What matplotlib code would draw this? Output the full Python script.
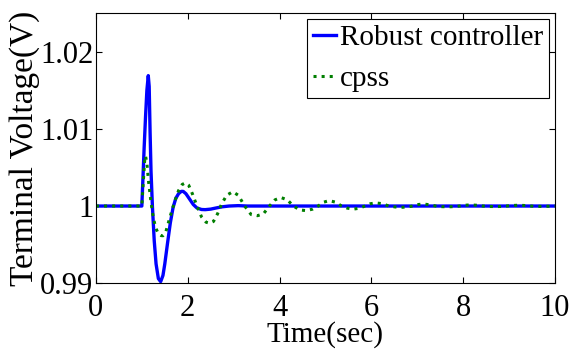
import matplotlib
matplotlib.use('Agg')
from matplotlib import pyplot as plt

# Robust controller response (time, voltage)
t_robust = [0.0, 1.0, 1.02, 1.05, 1.08, 1.11, 1.14, 1.16, 1.18, 1.2, 1.23,
            1.27, 1.31, 1.36, 1.41, 1.46, 1.5, 1.56, 1.62, 1.68, 1.74, 1.8,
            1.86, 1.9, 1.96, 2.04, 2.12, 2.2, 2.3, 2.38, 2.5, 2.62, 2.75,
            2.9, 3.1, 3.3, 10.0]
v_robust = [1.0, 1.0, 1.003, 1.0075, 1.0115, 1.015, 1.0169, 1.0155, 1.0095,
            1.0045, 1.0, 0.9955, 0.9925, 0.9906, 0.9902, 0.991, 0.9925,
            0.9952, 0.9978, 0.9998, 1.001, 1.0016, 1.0019, 1.0019, 1.0016,
            1.0009, 1.0002, 0.99975, 0.99955, 0.99953, 0.9996, 0.99975,
            0.9999, 1.0, 1.00005, 1.0, 1.0]

# cpss response
t_cpss = [0.0, 1.0, 1.03, 1.06, 1.08, 1.11, 1.15, 1.2, 1.25, 1.3, 1.36, 1.42,
          1.46, 1.52, 1.6, 1.7, 1.8, 1.88, 1.95, 2.02, 2.1, 2.2, 2.3, 2.4,
          2.48, 2.56, 2.65, 2.74, 2.85, 2.98, 3.1, 3.24, 3.38, 3.52, 3.65,
          3.78, 3.9, 4.03, 4.17, 4.3, 4.44, 4.58, 4.72, 4.84, 4.96, 5.08,
          5.22, 5.35, 5.48, 5.61, 5.74, 5.86, 5.98, 6.1, 6.24, 6.38, 6.52,
          6.65, 6.78, 6.9, 7.0, 7.12, 7.25, 7.4, 7.53, 7.66, 7.79, 7.92,
          8.04, 8.16, 8.29, 8.42, 8.56, 8.69, 8.82, 8.95, 9.07, 9.2, 9.33,
          9.46, 9.58, 9.72, 9.85, 10.0]
v_cpss = [1.0, 1.0, 1.003, 1.0058, 1.0065, 1.0055, 1.003, 1.0005, 0.9985,
          0.9972, 0.9964, 0.99617, 0.99615, 0.9966, 0.9983, 1.0003, 1.002,
          1.0028, 1.003, 1.0027, 1.0016, 1.0, 0.9986, 0.9979, 0.99777,
          0.998, 0.999, 1.0003, 1.0014, 1.00185, 1.0014, 1.0, 0.9989,
          0.99875, 0.999, 1.0, 1.0008, 1.0011, 1.0008, 1.0, 0.9995, 0.9994,
          0.9996, 1.0, 1.0005, 1.0007, 1.0005, 1.0, 0.99972, 0.9996,
          0.99972, 1.0, 1.0003, 1.0004, 1.0003, 1.0, 0.99988, 0.99983,
          0.99988, 1.0, 1.00018, 1.00026, 1.00018, 1.0, 0.99992, 0.9999,
          0.99992, 1.0, 1.0001, 1.00015, 1.0001, 1.0, 0.99994, 0.99993,
          0.99994, 1.0, 1.00007, 1.0001, 1.00007, 1.0, 0.99996, 0.99995,
          0.99997, 1.0]

xticks = [0, 2, 4, 6, 8, 10]
yticks = [0.99, 1.0, 1.01, 1.02]
ytick_labels = ['0.99', '1', '1.01', '1.02']

plt.rcParams['font.family'] = ['Liberation Serif', 'DejaVu Serif']

fig = plt.figure(figsize=(5.71, 3.54), dpi=100)
ax = fig.add_axes([0.168, 0.2, 0.804, 0.763])

ax.plot(t_robust, v_robust, color='#0000ff', lw=2.4, label='Robust controller')
ax.plot(t_cpss, v_cpss, color='#007f00', lw=2.2, ls=':', label='cpss')

ax.set_xlim(0, 10)
ax.set_ylim(0.99, 1.025)
ax.set_xticks(xticks)
ax.set_yticks(yticks)
ax.set_yticklabels(ytick_labels)
ax.tick_params(direction='in', top=True, right=True, labelsize=22, length=4)
ax.tick_params(axis='x', pad=8)
ax.tick_params(axis='y', pad=2)

ax.set_xlabel('Time(sec)', fontsize=21, va='top')
ax.xaxis.set_label_coords(0.5, -0.14)
ax.set_ylabel('Terminal Voltage(V)', fontsize=24)
ax.yaxis.set_label_coords(-0.122, 0.5)

leg = ax.legend(loc='upper right', fontsize=21, handlelength=0.8,
                handletextpad=0.15, borderpad=0.2, labelspacing=0.5,
                fancybox=False, framealpha=1, borderaxespad=0.2)
leg.get_frame().set_edgecolor('black')
leg.get_frame().set_linewidth(0.8)

plt.savefig('out.png', dpi=100)
